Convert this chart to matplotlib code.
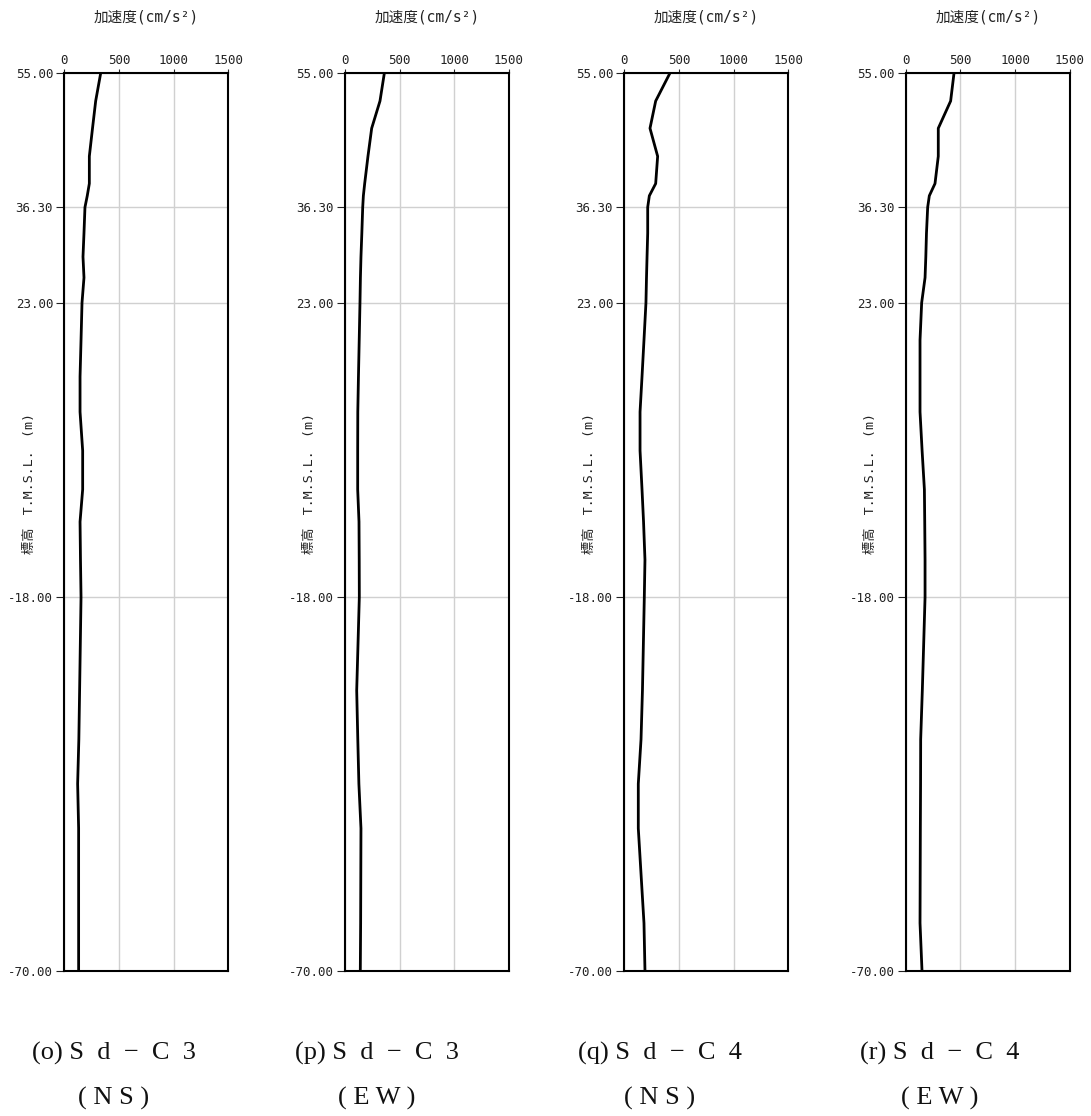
import matplotlib
matplotlib.use('Agg')
import matplotlib.pyplot as plt

plt.rcParams['font.family'] = ['DejaVu Sans Mono', 'Noto Sans CJK JP']

# elevation nodes (T.M.S.L. m)
elev = [55, 51.1, 47.3, 43.4, 39.6, 37.9, 36.3, 32.7, 29.4, 26.5, 23, 17.8, 12.7,
        7.8, 2.4, -3.0, -7.5, -12.8, -18, -31, -37.8, -44, -50.2, -63.4, -70]

# max acceleration (cm/s2)
acc_o = [333, 287, 258, 229, 229, 210, 189, 180, 171, 180, 162, 153, 144,
         144, 168, 168, 144, 148, 153, 140, 133, 122, 131, 131, 131]
acc_p = [360, 320, 244, 210, 180, 168, 162, 154, 146, 141, 137, 130, 123,
         117, 116, 116, 128, 130, 131, 107, 117, 127, 146, 143, 140]
acc_q = [418, 287, 235, 305, 287, 229, 214, 214, 208, 203, 198, 180, 162,
         144, 144, 162, 176, 189, 183, 166, 153, 128, 128, 180, 189]
acc_r = [442, 411, 298, 298, 268, 216, 201, 190, 184, 177, 146, 131, 131,
         131, 150, 171, 174, 177, 177, 152, 137, 136, 134, 131, 149]

series = [acc_o, acc_p, acc_q, acc_r]
captions = ['(o) S  d  −  C  3', '(p) S  d  −  C  3', '(q) S  d  −  C  4', '(r) S  d  −  C  4']
dirs = ['( N S )', '( E W )', '( N S )', '( E W )']

yticks = [55, 36.3, 23, -18, -70]
xticks = [0, 500, 1000, 1500]

W, H = 1091, 1116
fig = plt.figure(figsize=(W / 100, H / 100), dpi=100)

lefts = [64.3, 345, 624.3, 905.7]
cap_x = [114, 377, 660, 940]
top, bottom, width = 73, 970.5, 164

for i in range(4):
    ax = fig.add_axes([lefts[i] / W, 1 - bottom / H, width / W, (bottom - top) / H])
    ax.plot(series[i], elev, color='black', lw=2, zorder=3)
    ax.set_xlim(0, 1500)
    ax.set_ylim(-70, 55)
    ax.set_xticks(xticks)
    ax.set_yticks(yticks)
    ax.set_yticklabels(['{:.2f}'.format(v) for v in yticks])
    ax.xaxis.tick_top()
    ax.tick_params(axis='x', labelsize=9, length=3, pad=1, colors='#222')
    ax.tick_params(axis='y', labelsize=9, length=6, pad=2, colors='#222', width=0.8)
    ax.grid(True, color='#d0d0d0', lw=1)
    for s in ax.spines.values():
        s.set_linewidth(1.5)
        s.set_color('black')
    ax.text(0.5, 1.0 + 56 / (bottom - top), '加速度(cm/s²)', transform=ax.transAxes,
            ha='center', va='center', fontsize=10.5, color='#222')
    ax.text(-35 / width, (bottom - 483) / (bottom - top), '標高　T.M.S.L.　(m)',
            transform=ax.transAxes, rotation=90, ha='center', va='center',
            fontsize=9.5, color='#222')
    fig.text(cap_x[i] / W, 1 - 1053 / H, captions[i], ha='center', va='center',
             fontsize=19, color='#111', family='Liberation Serif')
    fig.text(cap_x[i] / W, 1 - 1098 / H, dirs[i], ha='center', va='center',
             fontsize=19, color='#111', family='Liberation Serif')

fig.savefig('out.png', dpi=100, facecolor='white')
